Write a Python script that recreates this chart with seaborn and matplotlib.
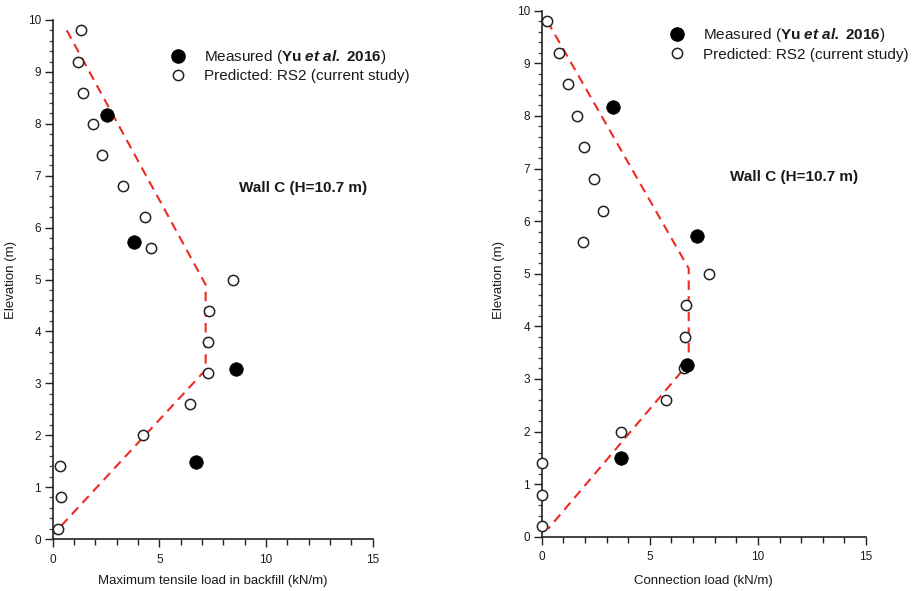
import matplotlib
matplotlib.use("Agg")
import matplotlib.pyplot as plt
import seaborn as sns
import pandas as pd
from matplotlib.ticker import MultipleLocator
from matplotlib.lines import Line2D

# ---------------- data ----------------
elev_pred = [9.8, 9.2, 8.6, 8.0, 7.4, 6.8, 6.2, 5.6, 5.0, 4.4, 3.8, 3.2, 2.6, 2.0, 1.4, 0.8, 0.2]
tensile_pred = [1.31, 1.17, 1.42, 1.90, 2.33, 3.28, 4.33, 4.62, 8.44, 7.34, 7.30, 7.28, 6.44, 4.22, 0.34, 0.40, 0.26]
conn_pred = [0.26, 0.80, 1.22, 1.62, 1.96, 2.43, 2.85, 1.90, 7.72, 6.67, 6.61, 6.58, 5.74, 3.68, 0.0, 0.0, 0.03]

elev_meas = [8.17, 5.72, 3.27, 1.49]
tensile_meas = [2.53, 3.80, 8.59, 6.70]
conn_meas = [3.30, 7.17, 6.72, 3.67]

# design (dashed) envelopes
tensile_env_x = [0.66, 7.17, 7.17, 0.05]
tensile_env_y = [9.80, 4.90, 3.26, 0.10]
conn_env_x = [0.26, 6.80, 6.80, 0.30]
conn_env_y = [9.80, 5.10, 3.30, 0.15]

xlabels = ["Maximum tensile load in backfill (kN/m)", "Connection load (kN/m)"]
ylabel = "Elevation (m)"
title_text = "Wall C (H=10.7 m)"
leg_meas = r"Measured ($\mathbf{Yu}\ \mathbfit{et\ al.}\ \mathbf{2016}$)"
leg_pred = "Predicted: RS2 (current study)"

# ---------------- style ----------------
sns.set_style("ticks")
plt.rcParams["font.family"] = ["Liberation Sans", "DejaVu Sans"]
plt.rcParams["mathtext.fontset"] = "custom"
plt.rcParams["mathtext.rm"] = "Liberation Sans"
plt.rcParams["mathtext.bf"] = "Liberation Sans:bold"
plt.rcParams["mathtext.it"] = "Liberation Sans:italic"
plt.rcParams["mathtext.bfit"] = "Liberation Sans:italic:bold"

TXT = "#1a1a1a"
RED = "#ee2a24"

W, H = 918, 591
fig = plt.figure(figsize=(W / 100, H / 100), dpi=100)

# axes positions (pixels): left, right, top, bottom
specs = [
    dict(l=52.7, r=372.7, t=20.0, b=539.0, xv=tensile_pred, xm=tensile_meas, ex=tensile_env_x, ey=tensile_env_y,
         xl=xlabels[0], txt=(8.73, 6.77), leg=(170.7, 48.0), ylx=11.0),
    dict(l=541.7, r=866.0, t=10.7, b=536.7, xv=conn_pred, xm=conn_meas, ex=conn_env_x, ey=conn_env_y,
         xl=xlabels[1], txt=(8.71, 6.83), leg=(669.7, 26.5), ylx=499.0),
]

for s in specs:
    ax = fig.add_axes([s["l"] / W, 1 - s["b"] / H, (s["r"] - s["l"]) / W, (s["b"] - s["t"]) / H])
    ax.set_facecolor("white")

    df_env = pd.DataFrame({"x": s["ex"], "y": s["ey"]})
    sns.lineplot(data=df_env, x="x", y="y", sort=False, estimator=None, ax=ax,
                 color=RED, linewidth=1.5, dashes=False, zorder=2)
    ax.lines[-1].set_dashes([4.5, 3])

    df_p = pd.DataFrame({"x": s["xv"], "y": elev_pred})
    sns.scatterplot(data=df_p, x="x", y="y", ax=ax, s=55, facecolor="white",
                    edgecolor="#222222", linewidth=1.1, zorder=3, clip_on=False)
    df_m = pd.DataFrame({"x": s["xm"], "y": elev_meas})
    sns.scatterplot(data=df_m, x="x", y="y", ax=ax, s=95, color="black",
                    edgecolor="black", linewidth=0.5, zorder=4, clip_on=False)

    ax.set_xlim(0, 15)
    ax.set_ylim(0, 10)
    ax.xaxis.set_major_locator(MultipleLocator(5))
    ax.xaxis.set_minor_locator(MultipleLocator(1))
    ax.yaxis.set_major_locator(MultipleLocator(1))
    ax.yaxis.set_minor_locator(MultipleLocator(0.2))
    sns.despine(ax=ax)
    for sp in ["left", "bottom"]:
        ax.spines[sp].set_linewidth(1.2)
        ax.spines[sp].set_color("#222222")
    ax.tick_params(axis="both", which="major", length=5.5, width=1.0, color="#222222",
                   labelsize=8.5, labelcolor=TXT)
    ax.tick_params(axis="x", which="minor", length=4.5, width=1.0, color="#222222")
    ax.tick_params(axis="y", which="minor", length=3.0, width=0.9, color="#444444")
    ax.tick_params(axis="x", which="major", pad=5)
    ax.tick_params(axis="y", which="major", pad=3)

    ax.set_xlabel(s["xl"], fontsize=9.5, color=TXT, va="center")
    ax.set_ylabel("")
    ax.xaxis.set_label_coords(0.5, -(581 - s["b"]) / (s["b"] - s["t"]), transform=ax.transAxes)
    fig.text(s["ylx"] / W, 1 - 280 / H, ylabel, rotation=90, ha="center", va="center",
             fontsize=9.5, color=TXT)

    ax.text(s["txt"][0], s["txt"][1], title_text, fontsize=11, fontweight="bold",
            ha="left", va="center", color=TXT)

    handles = [
        Line2D([], [], linestyle="none", marker="o", markersize=9.5, markerfacecolor="black",
               markeredgecolor="black"),
        Line2D([], [], linestyle="none", marker="o", markersize=7.4, markerfacecolor="white",
               markeredgecolor="#222222", markeredgewidth=1.1),
    ]
    fig.legend(handles, [leg_meas, leg_pred], loc="upper left",
               bbox_to_anchor=(s["leg"][0] / W, 1 - s["leg"][1] / H),
               bbox_transform=fig.transFigure, frameon=False, fontsize=11,
               handlelength=1.0, handletextpad=1.2, labelspacing=0.2, borderpad=0,
               borderaxespad=0, labelcolor=TXT)

fig.savefig("out.png", dpi=100, facecolor="white")
